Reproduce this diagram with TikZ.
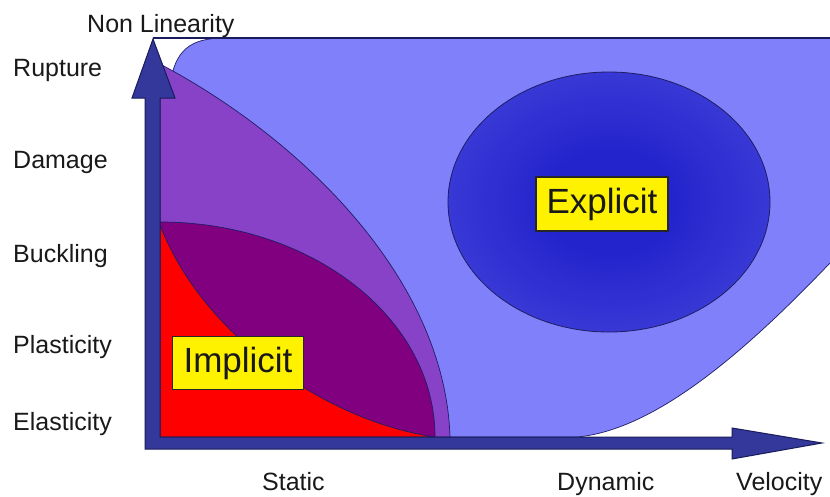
\documentclass[tikz,border=0pt]{standalone}
\usepackage{fontspec}
\setmainfont{Liberation Sans}
\definecolor{lightreg}{RGB}{128,128,250}
\definecolor{midpurp}{RGB}{136,66,200}
\definecolor{darkpurp}{RGB}{128,0,128}
\definecolor{redreg}{RGB}{255,0,0}
\definecolor{axisfill}{RGB}{52,56,154}
\definecolor{axisdraw}{RGB}{25,28,90}
\definecolor{outl}{RGB}{30,30,100}
\definecolor{ecen}{RGB}{36,36,205}
\definecolor{eout}{RGB}{90,90,228}
\definecolor{txt}{RGB}{25,25,25}
\pgfdeclareradialshading{explshade}{\pgfpoint{0bp}{0bp}}{color(0bp)=(ecen); color(10bp)=(ecen); color(50bp)=(eout); color(100bp)=(eout)}
\begin{document}
\begin{tikzpicture}[x=1pt, y=-1pt,
  region/.style={draw=outl, line width=0.7pt},
  axlabel/.style={font=\fontsize{25}{30}\selectfont, text=txt, inner sep=0pt, anchor=base west},
  tagbox/.style={fill=yellow, draw=black!85, line width=1.2pt, font=\fontsize{35}{40}\selectfont, text=black!90, inner sep=0pt, minimum width=132pt, minimum height=54pt}]
\useasboundingbox (0,0) rectangle (830,496);
% light blue region (right side runs off the picture edge)
\path[region, fill=lightreg] (160,437) -- (160,120) -- (170,85) .. controls (175,50) and (190,38) .. (225,38) -- (834,38) -- (834,259) -- (830,263) .. controls (745,352) and (655,430) .. (577,437) -- cycle;
% top line
\coordinate (topL) at (153,38);
\coordinate (topR) at (830,38);
\draw[axisdraw, line width=1.3pt] (topL) -- (topR);
% medium purple region
\path[region, fill=midpurp] (160,437) -- (160,64) .. controls (300,138) and (445,278) .. (450,437) -- cycle;
% dark purple region
\path[region, fill=darkpurp] (160,437) -- (160,222) arc[start angle=-90, end angle=0, x radius=275, y radius=215] -- cycle;
% red region
\path[region, fill=redreg] (160,437) -- (160,225) .. controls (200,330) and (320,420) .. (435,437) -- cycle;
% explicit ellipse
\shade[shading=explshade, draw=outl, line width=0.8pt] (609,202) ellipse [x radius=161, y radius=130];
% axes
\path[fill=axisfill, draw=axisdraw, line width=1pt, line join=miter]
  (145,449) -- (145,98) -- (132,98) -- (153,39) -- (175,98) -- (160,98) -- (160,437)
  -- (732,437) -- (732,428) -- (822,443) -- (732,459) -- (732,449) -- cycle;
% tags
\node[tagbox] (explicit) at (602,204) {Explicit};
\node[tagbox, minimum width=131pt, minimum height=53pt] (implicit) at (238,363) {Implicit};
% axis labels
\node[axlabel] (nonlin) at (87,32) {Non Linearity};
\node[axlabel] (rupture) at (13,76) {Rupture};
\node[axlabel] (damage) at (13,168) {Damage};
\node[axlabel] (buckling) at (13,262) {Buckling};
\node[axlabel] (plasticity) at (13,353) {Plasticity};
\node[axlabel] (elasticity) at (13,430) {Elasticity};
\node[axlabel] (static) at (262,490) {Static};
\node[axlabel] (dynamic) at (557,490) {Dynamic};
\node[axlabel] (velocity) at (736,490) {Velocity};
\end{tikzpicture}
\end{document}
